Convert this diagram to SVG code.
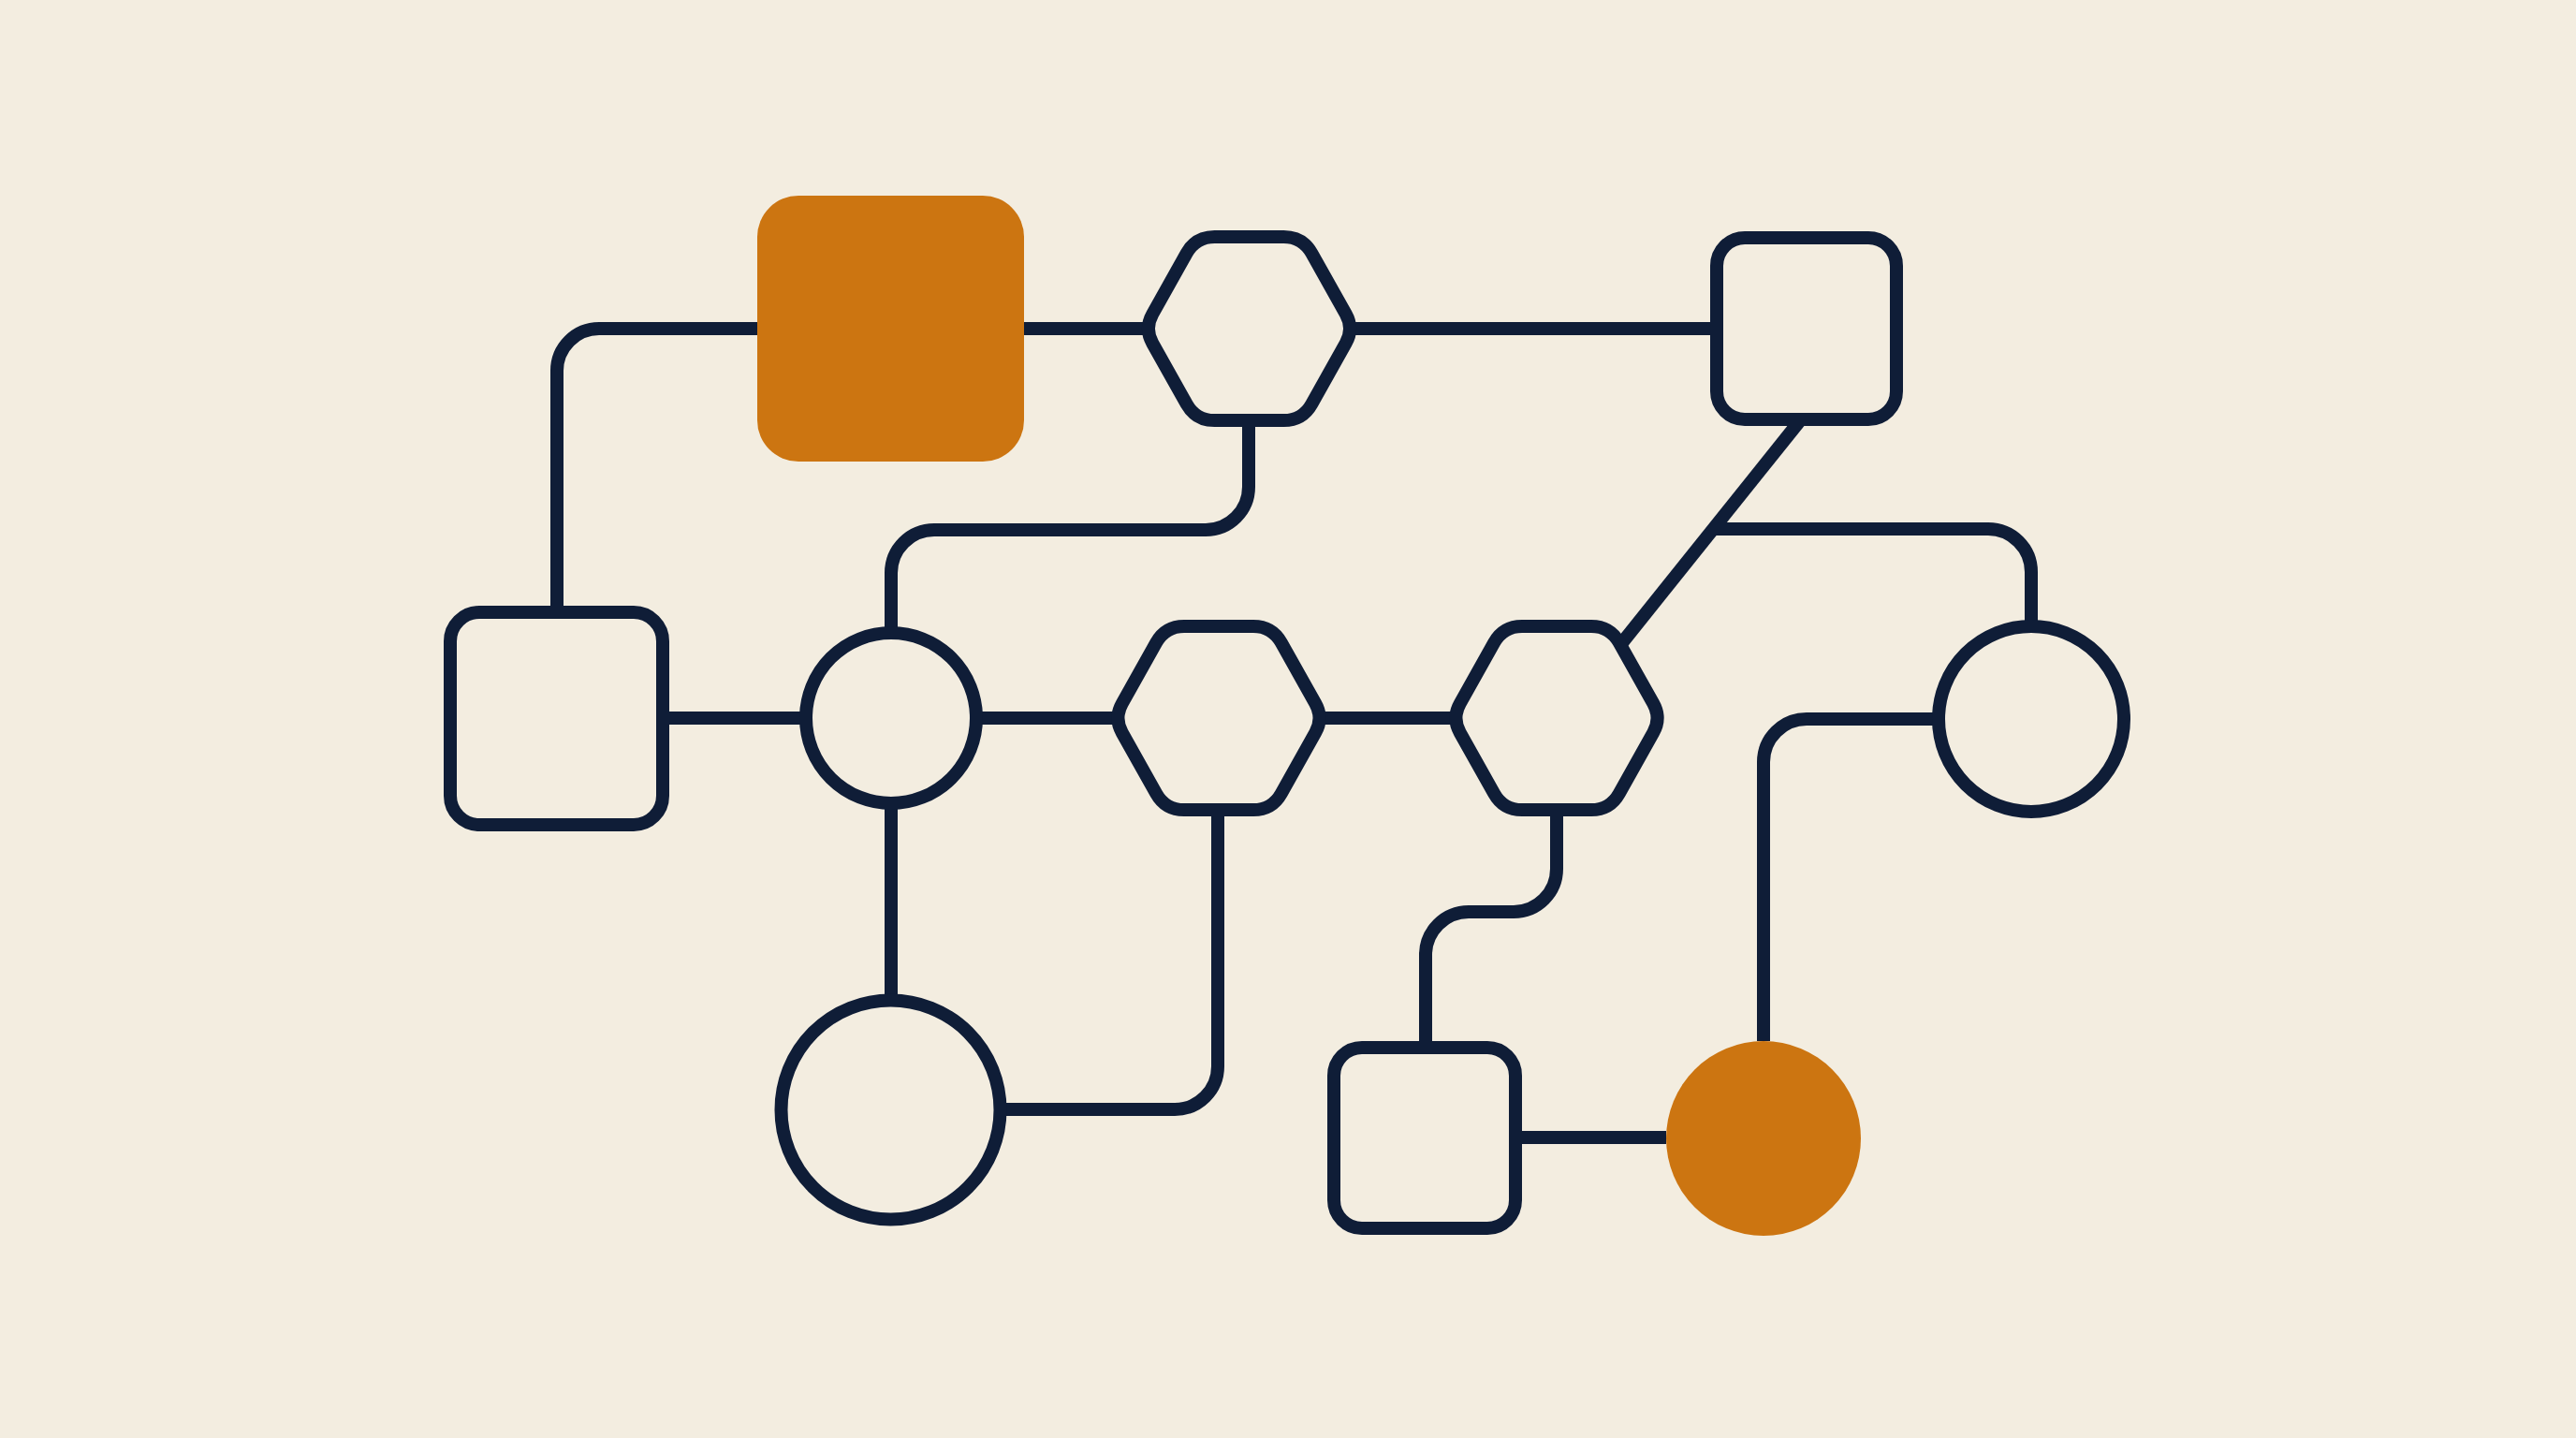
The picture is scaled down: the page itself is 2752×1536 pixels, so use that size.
<svg xmlns="http://www.w3.org/2000/svg" xmlns:xlink="http://www.w3.org/1999/xlink" width="2752" height="1536" viewBox="0 0 2752 1536">
  <style>
    .ln { fill: none; stroke: #0F1D37; stroke-width: 14; stroke-linejoin: round; }
    .nd { fill: #F3EDE0; stroke: #0F1D37; stroke-width: 14; stroke-linejoin: round; }
    .acc { fill: #CC7511; stroke: none; }
  </style>
  <defs>
    <path id="hexShape" d="M -37 -98 L 37 -98 Q 57 -98 66.78 -80.56 L 103.2 -15.7 Q 112 0 103.2 15.7 L 66.78 80.56 Q 57 98 37 98 L -37 98 Q -57 98 -66.78 80.56 L -103.2 15.7 Q -112 0 -103.2 -15.7 L -66.78 -80.56 Q -57 -98 -37 -98 Z"/>
  </defs>
  <rect width="2752" height="1536" fill="#F3EDE0"/>

  <g id="connectors">
    <path class="ln" d="M 809 351 H 640 A 45 45 0 0 0 595 396 V 654"/>
    <path class="ln" d="M 1094 351 H 1228"/>
    <path class="ln" d="M 1441 351 H 1834"/>
    <path class="ln" d="M 1334 449 V 520 A 46 46 0 0 1 1288 566 H 998 A 46 46 0 0 0 952 612 V 676"/>
    <path class="ln" d="M 1924 448 L 1731 689"/>
    <path class="ln" d="M 1830 565 H 2124 A 46 46 0 0 1 2170 611 V 669"/>
    <path class="ln" d="M 708 767 H 861"/>
    <path class="ln" d="M 1043 767 H 1196"/>
    <path class="ln" d="M 1408 767 H 1557"/>
    <path class="ln" d="M 952 858 V 1068"/>
    <path class="ln" d="M 1301 865 V 1139 A 46 46 0 0 1 1255 1185 H 1068"/>
    <path class="ln" d="M 1663 865 V 928 A 46 46 0 0 1 1617 974 H 1569 A 46 46 0 0 0 1523 1020 V 1119"/>
    <path class="ln" d="M 1619 1215 H 1780"/>
    <path class="ln" d="M 1884 1112 V 814 A 46 46 0 0 1 1930 768 H 2071"/>
  </g>

  <g id="node-orange-square"><rect class="acc" x="809" y="209" width="285" height="284" rx="44"/></g>
  <g id="node-hex-top"><use xlink:href="#hexShape" class="nd" transform="translate(1334.5 351)"/></g>
  <g id="node-square-top-right"><rect class="nd" x="1834" y="254" width="192" height="194" rx="30"/></g>
  <g id="node-square-left"><rect class="nd" x="481" y="654" width="227" height="227" rx="31"/></g>
  <g id="node-circle-mid"><circle class="nd" cx="952" cy="767" r="91"/></g>
  <g id="node-hex-mid"><use xlink:href="#hexShape" class="nd" transform="translate(1302 767)"/></g>
  <g id="node-hex-right"><use xlink:href="#hexShape" class="nd" transform="translate(1663 767)"/></g>
  <g id="node-circle-right"><circle class="nd" cx="2170" cy="768" r="99"/></g>
  <g id="node-circle-bottom"><circle class="nd" cx="951.5" cy="1185.5" r="117"/></g>
  <g id="node-square-bottom"><rect class="nd" x="1425" y="1119" width="194" height="193" rx="30"/></g>
  <g id="node-orange-circle"><circle class="acc" cx="1884" cy="1216" r="104"/></g>
</svg>
